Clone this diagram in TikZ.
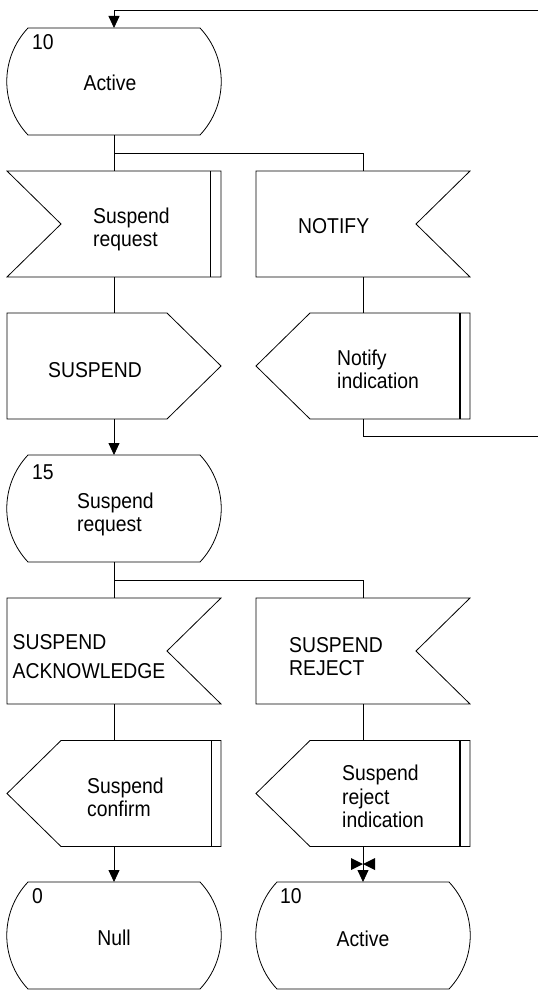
\documentclass[tikz,border=0pt]{standalone}
\usepackage{fontspec}
\setmainfont{Liberation Sans}[FakeStretch=0.9]
\usetikzlibrary{calc,arrows.meta}
\newcommand\sdlstate[1]{\draw[ln] ($(#1.north west)+(21,0)$) -- ($(#1.north east)+(-21,0)$) .. controls ($(#1.north east)+(7.3,30)$) and ($(#1.south east)+(7.3,-30)$) .. ($(#1.south east)+(-21,0)$) -- ($(#1.south west)+(21,0)$) .. controls ($(#1.south west)+(-7.3,-30)$) and ($(#1.north west)+(-7.3,30)$) .. cycle;}
\newcommand\sdlinL[2]{\draw[ln] (#1.north west) -- (#1.north east) -- (#1.south east) -- (#1.south west) -- ($(#1.west)+(54,0)$) -- cycle;
  \draw[ln,line width=#2] ($(#1.north east)+(-10.5,0)$) -- ($(#1.south east)+(-10.5,0)$);}
\newcommand\sdlinR[1]{\draw[ln] (#1.north west) -- (#1.north east) -- ($(#1.east)+(-54,0)$) -- (#1.south east) -- (#1.south west) -- cycle;}
\newcommand\sdloutR[1]{\draw[ln] (#1.north west) -- ($(#1.north east)+(-54,0)$) -- (#1.east) -- ($(#1.south east)+(-54,0)$) -- (#1.south west) -- cycle;}
\newcommand\sdloutL[2]{\draw[ln] ($(#1.north west)+(54,0)$) -- (#1.north east) -- (#1.south east) -- ($(#1.south west)+(54,0)$) -- (#1.west) -- cycle;
  \draw[ln,line width=#2] ($(#1.north east)+(-10,0)$) -- ($(#1.south east)+(-10,0)$);}
\begin{document}
\begin{tikzpicture}[x=1pt,y=-1pt,
  ln/.style={line width=0.8pt, draw=black},
  shp/.style={minimum width=214pt, minimum height=106pt, inner sep=0pt, outer sep=0pt},
  stateshp/.style={minimum width=214pt, minimum height=107pt, inner sep=0pt, outer sep=0pt},
  txt/.style={anchor=base west, inner sep=0pt, font=\fontsize{21.5}{23}\selectfont},
  ctxt/.style={anchor=base, inner sep=0pt, font=\fontsize{21.5}{23}\selectfont},
  arr/.style={ln, -{Triangle[length=12pt,width=11pt]}}]
\useasboundingbox (0,0) rectangle (538,990);
% nodes
\node[stateshp] (s10) at (114,81.5) {};
\node[shp] (in1) at (114,224) {};
\node[shp] (notify) at (363,224) {};
\node[shp] (out1) at (114,366) {};
\node[shp] (oind) at (363,366) {};
\node[stateshp] (s15) at (114,508.5) {};
\node[shp] (ack) at (114,651) {};
\node[shp] (rej) at (363,651) {};
\node[shp] (conf) at (114,793.5) {};
\node[shp] (rind) at (363,793.5) {};
\node[stateshp] (null) at (114,935.5) {};
\node[stateshp] (act2) at (363,935.5) {};
% outlines
\sdlstate{s10}
\sdlinL{in1}{0.8pt}
\sdlinR{notify}
\sdloutR{out1}
\sdloutL{oind}{2pt}
\sdlstate{s15}
\sdlinR{ack}
\sdlinR{rej}
\sdloutL{conf}{0.8pt}
\sdloutL{rind}{2pt}
\sdlstate{null}
\sdlstate{act2}
% texts
\node[txt] (s10n) at (32,50) {10};
\node[ctxt] (s10t) at (110,90) {Active};
\node[txt] (in1a) at (93,223) {Suspend};
\node[txt] (in1b) at (93,246) {request};
\node[txt] (notifyt) at (298,233) {NOTIFY};
\node[txt] (out1t) at (48,377) {SUSPEND};
\node[txt] (oinda) at (337,365) {Notify};
\node[txt] (oindb) at (337,388) {indication};
\node[txt] (s15n) at (32,479) {15};
\node[txt] (s15a) at (77,508) {Suspend};
\node[txt] (s15b) at (77,531) {request};
\node[txt] (acka) at (12.5,649) {SUSPEND};
\node[txt] (ackb) at (12.5,678) {ACKNOWLEDGE};
\node[txt] (reja) at (289,652) {SUSPEND};
\node[txt] (rejb) at (289,675) {REJECT};
\node[txt] (confa) at (87,793) {Suspend};
\node[txt] (confb) at (87,816.5) {confirm};
\node[txt] (rinda) at (342,780.5) {Suspend};
\node[txt] (rindb) at (342,804) {reject};
\node[txt] (rindc) at (342,827.5) {indication};
\node[txt] (nulln) at (32,903) {0};
\node[ctxt] (nullt) at (114,945) {Null};
\node[txt] (act2n) at (280,903) {10};
\node[ctxt] (act2t) at (363,946) {Active};
% connectors
\coordinate (tr) at (538,10.5);
\coordinate (j1) at (114,153);
\coordinate (br) at (538,436.5);
\coordinate (j2) at (114,580);
\coordinate (bt) at (363,864);
\draw[arr] (tr) -| (s10.north);
\draw[ln] (s10.south) -- (in1.north);
\draw[ln] (j1) -| (notify.north);
\draw[ln] (in1.south) -- (out1.north);
\draw[arr] (out1.south) -- (s15.north);
\draw[ln] (notify.south) -- (oind.north);
\draw[ln] (oind.south) |- (br);
\draw[ln] (s15.south) -- (ack.north);
\draw[ln] (j2) -| (rej.north);
\draw[ln] (ack.south) -- (conf.north);
\draw[ln] (rej.south) -- (rind.north);
\draw[arr] (conf.south) -- (null.north);
\draw[arr] (rind.south) -- (act2.north);
\fill ($(bt)+(-12,-6)$) -- ($(bt)+(-12,6)$) -- (bt) -- cycle;
\fill ($(bt)+(12,-6)$) -- ($(bt)+(12,6)$) -- (bt) -- cycle;
\end{tikzpicture}
\end{document}
